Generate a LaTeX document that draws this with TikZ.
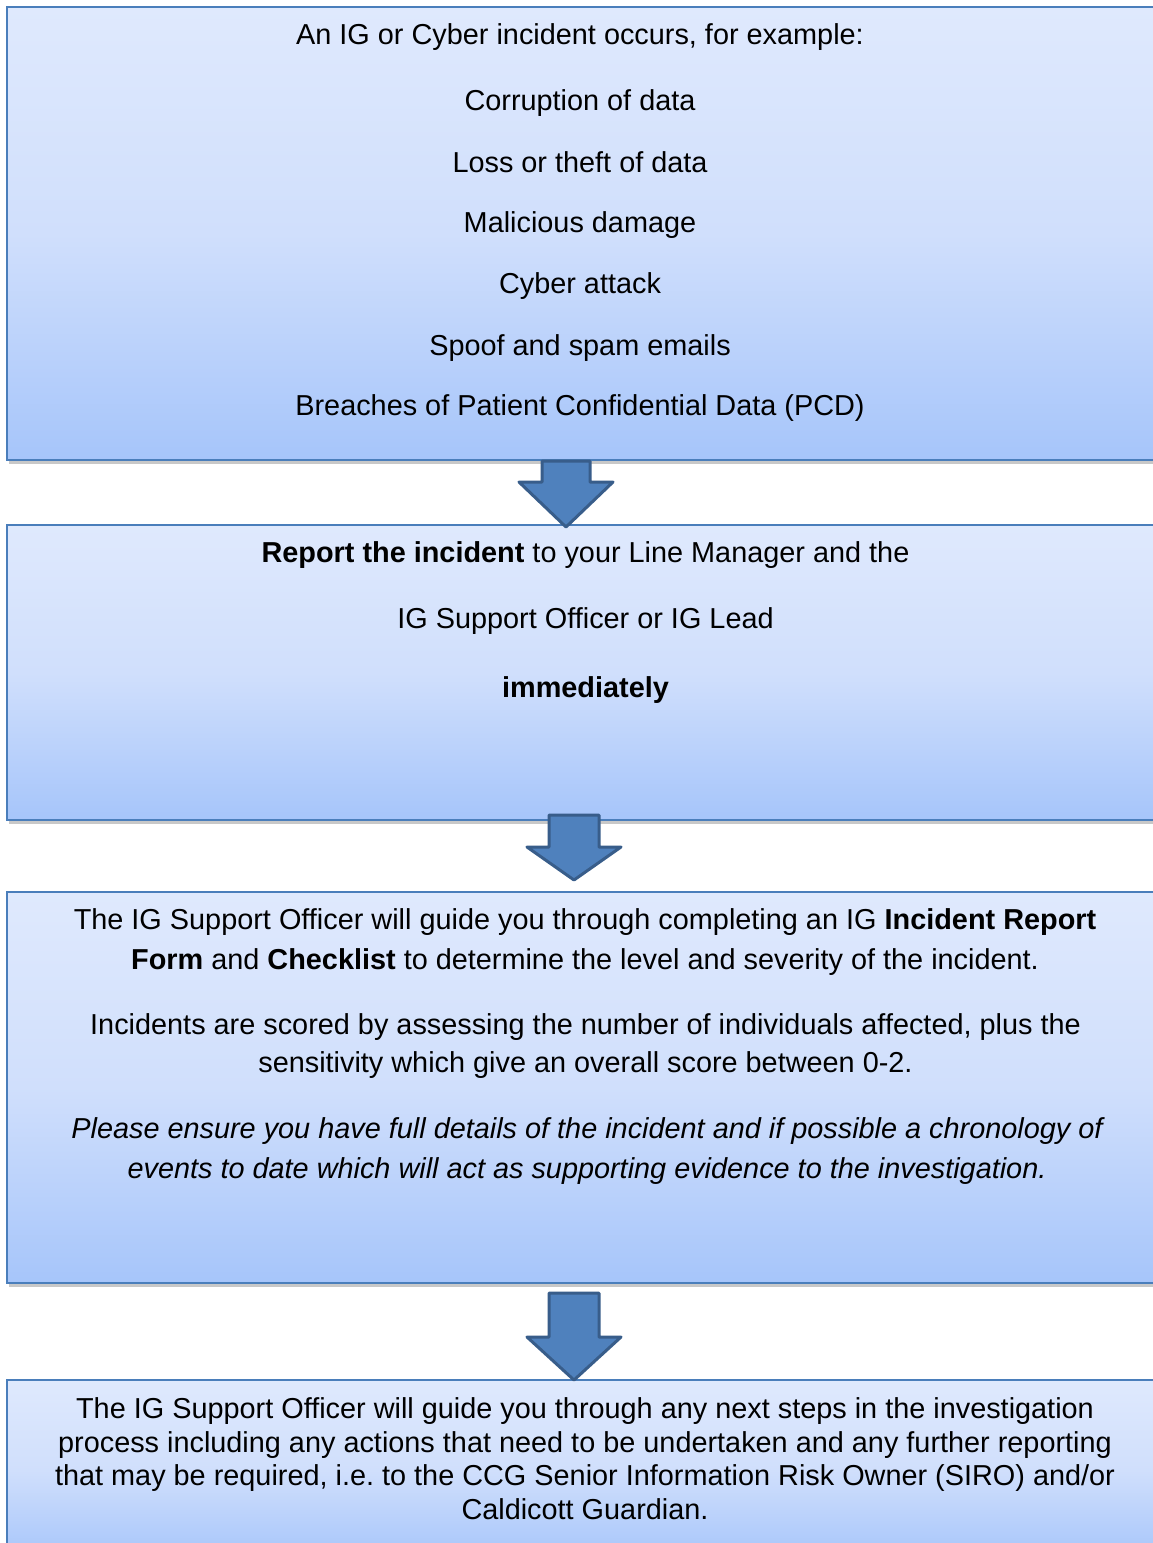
\documentclass[tikz,border=0pt]{standalone}
\usepackage{fontspec}
\setmainfont{Liberation Sans}
\usetikzlibrary{shadows}
\definecolor{boxtop}{RGB}{223,233,253}
\definecolor{boxmid}{RGB}{208,223,252}
\definecolor{boxbot}{RGB}{166,197,250}
\definecolor{boxline}{RGB}{74,126,187}
\definecolor{arrfill}{RGB}{79,129,189}
\definecolor{arrline}{RGB}{56,93,138}
\tikzset{
  box/.style={rectangle, draw=boxline, line width=2.5pt, top color=boxtop, bottom color=boxbot, middle color=boxmid, shading angle=0,
    drop shadow={shadow xshift=2pt, shadow yshift=-4pt, opacity=0.3, fill=black!70}, inner sep=0pt},
  txt/.style={anchor=base, inner sep=0pt, font=\fontsize{28.85}{33}\selectfont},
  blockarrow/.style={fill=arrfill, draw=arrline, line width=3pt, line join=round}
}
\begin{document}
\begin{tikzpicture}[x=1pt,y=-1pt]
\useasboundingbox (0,0) rectangle (1153,1543);
\clip (0,0) rectangle (1153,1543);
\fill[white] (0,0) rectangle (1153,1543);
% boxes
\node[box, minimum width=1153pt, minimum height=453pt] (b1) at (583.5,233.5) {};
\node[box, minimum width=1153pt, minimum height=295pt] (b2) at (583.5,672.5) {};
\node[box, minimum width=1153pt, minimum height=391pt] (b3) at (583.5,1087.5) {};
\node[box, minimum width=1153pt, minimum height=180pt] (b4) at (583.5,1470) {};
% arrows
\draw[blockarrow] (542,461) -- (590,461) -- (590,482) -- (613,482) -- (566,527) -- (519,482) -- (542,482) -- cycle;
\draw[blockarrow] (549,815) -- (599,815) -- (599,847) -- (621,847) -- (574,880) -- (527,847) -- (549,847) -- cycle;
\draw[blockarrow] (549,1293) -- (599,1293) -- (599,1337) -- (621,1337) -- (574,1380) -- (527,1337) -- (549,1337) -- cycle;
% box 1 text
\node[txt] (t11) at (580,44) {An IG or Cyber incident occurs, for example:};
\node[txt] (t12) at (580,110) {Corruption of data};
\node[txt] (t13) at (580,172) {Loss or theft of data};
\node[txt] (t14) at (580,232) {Malicious damage};
\node[txt] (t15) at (580,293) {Cyber attack};
\node[txt] (t16) at (580,355) {Spoof and spam emails};
\node[txt] (t17) at (580,415) {Breaches of Patient Confidential Data (PCD)};
% box 2 text
\node[txt] (t21) at (585.5,562) {\textbf{Report the incident} to your Line Manager and the};
\node[txt] (t22) at (585.5,628) {IG Support Officer or IG Lead};
\node[txt] (t23) at (585.5,697) {\textbf{immediately}};
% box 3 text
\node[txt] (t31) at (585,929) {The IG Support Officer will guide you through completing an IG \textbf{Incident Report}};
\node[txt] (t32) at (585,969) {\textbf{Form} and \textbf{Checklist} to determine the level and severity of the incident.};
\node[txt] (t33) at (585.5,1034) {Incidents are scored by assessing the number of individuals affected, plus the};
\node[txt] (t34) at (585.5,1072) {sensitivity which give an overall score between 0-2.};
\node[txt] (t35) at (587,1138) {\itshape Please ensure you have full details of the incident and if possible a chronology of};
\node[txt] (t36) at (587,1178) {\itshape events to date which will act as supporting evidence to the investigation.};
% box 4 text
\node[txt] (t41) at (585,1418) {The IG Support Officer will guide you through any next steps in the investigation};
\node[txt] (t42) at (585,1452) {process including any actions that need to be undertaken and any further reporting};
\node[txt] (t43) at (585,1485) {that may be required, i.e.\ to the CCG Senior Information Risk Owner (SIRO) and/or};
\node[txt] (t44) at (585,1519) {Caldicott Guardian.};
\end{tikzpicture}
\end{document}
